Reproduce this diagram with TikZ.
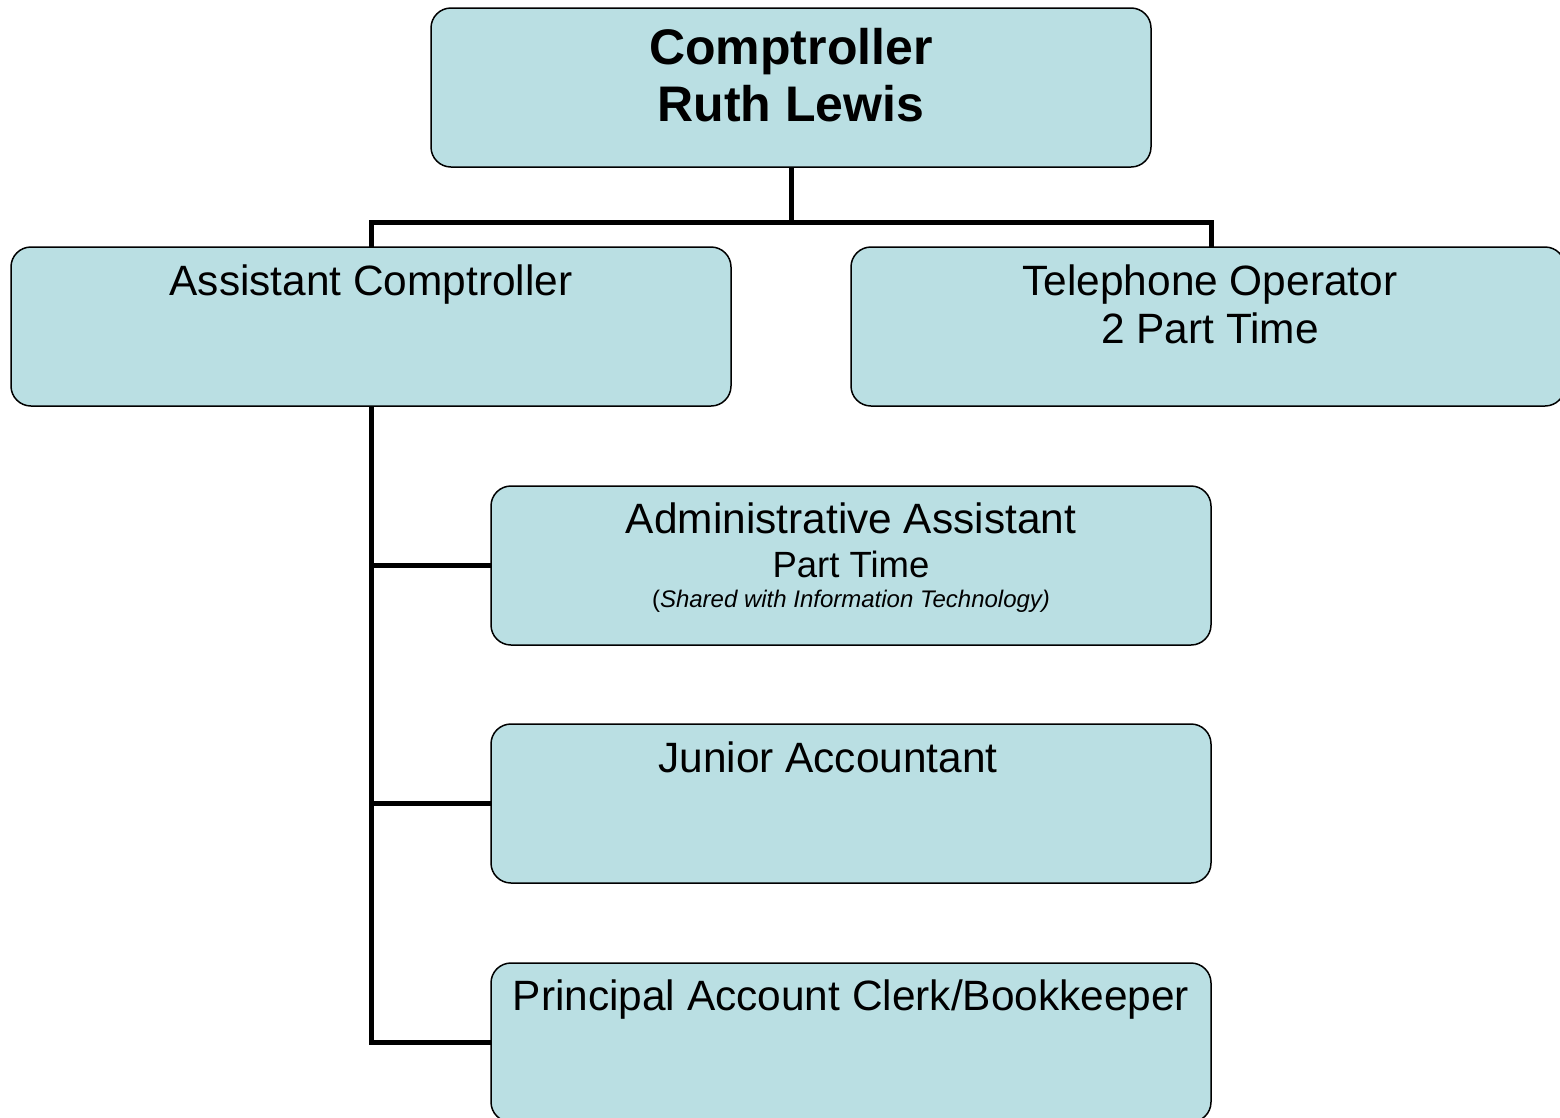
\documentclass[tikz,border=0pt]{standalone}
\usepackage{fontspec}
\setmainfont{Liberation Sans}
\definecolor{boxfill}{RGB}{186,223,227}
\begin{document}
\begin{tikzpicture}[x=1pt,y=-1pt,
  orgbox/.style={draw=black, line width=1.5pt, fill=boxfill, rounded corners=20pt,
    minimum width=720pt, minimum height=159pt, anchor=north west, inner sep=0pt, outer sep=0pt},
  conn/.style={line width=5pt, draw=black},
  titletext/.style={font=\bfseries\fontsize{50}{57}\selectfont, anchor=base, inner sep=0pt},
  bigtext/.style={font=\fontsize{42.4}{48}\selectfont, anchor=base, inner sep=0pt},
  midtext/.style={font=\fontsize{36.5}{42}\selectfont, anchor=base, inner sep=0pt},
  smalltext/.style={font=\fontsize{24}{28}\selectfont, anchor=base, inner sep=0pt}]
\useasboundingbox (0,0) rectangle (1560,1117);
\fill[white] (0,0) rectangle (1560,1117);
\clip (0,0) rectangle (1560,1117);

% boxes
\node[orgbox] (comp) at (431,8) {};
\node[orgbox] (asst) at (11,247) {};
\node[orgbox, minimum width=714pt] (tel) at (851,247) {};
\node[orgbox] (admin) at (491,486) {};
\node[orgbox] (junior) at (491,724) {};
\node[orgbox] (princ) at (491,963) {};

% texts
\node[titletext] (t1) at (791,64) {Comptroller};
\node[titletext] (t2) at (791,121) {Ruth Lewis};
\node[bigtext] (t3) at (371,295) {Assistant Comptroller};
\node[bigtext] (t4) at (1210,295) {Telephone Operator};
\node[bigtext] (t5) at (1210,343) {2 Part Time};
\node[bigtext] (t6) at (851,533) {Administrative Assistant};
\node[midtext] (t7) at (851,577) {Part Time};
\node[smalltext] (t8) at (851,607.5) {(\textit{Shared with Information Technology)}};
\node[bigtext] (t9) at (828,772) {Junior Accountant};
\node[bigtext] (t10) at (851,1010) {Principal Account Clerk/Bookkeeper};

% connectors
\coordinate (bus) at (791,222);
\coordinate (telTop) at (1211,247);
\draw[conn] (comp.south) -- (bus);
\draw[conn] (asst.north) |- (bus) -| (telTop);
\draw[conn] (asst.south) |- (admin.west);
\draw[conn] (asst.south) |- (junior.west);
\draw[conn] (asst.south) |- (princ.west);
\end{tikzpicture}
\end{document}
